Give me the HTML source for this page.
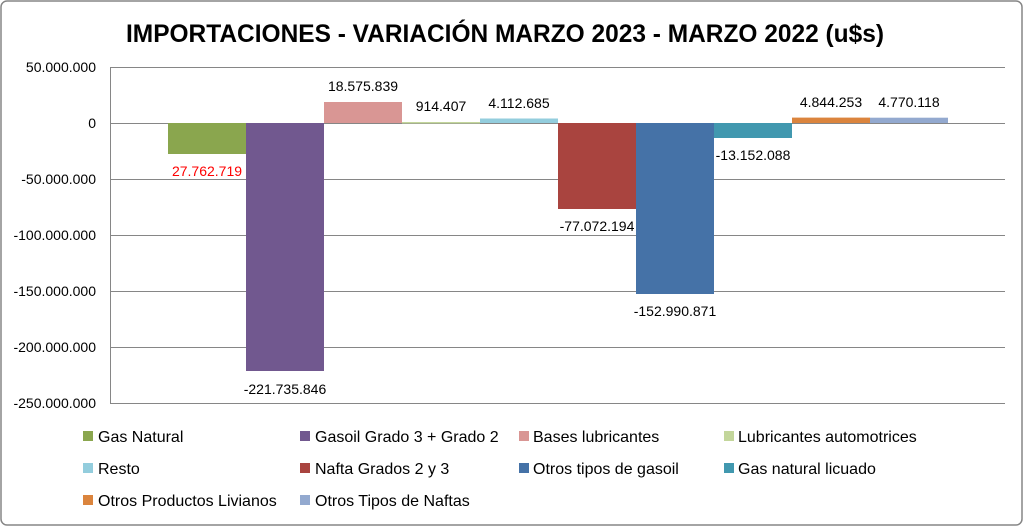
<!DOCTYPE html>
<html><head><meta charset="utf-8"><style>
html,body{margin:0;padding:0;background:#fff}
svg{display:block;font-family:"Liberation Sans",sans-serif}
</style></head><body>
<svg width="1023" height="526" viewBox="0 0 1023 526" xmlns="http://www.w3.org/2000/svg">
<rect x="1" y="1" width="1021" height="524" rx="6" fill="#fff" stroke="#868686" stroke-width="1.5"/>
<text x="505" y="42" text-anchor="middle" font-size="25" font-weight="bold" textLength="758" lengthAdjust="spacingAndGlyphs">IMPORTACIONES - VARIACIÓN MARZO 2023 - MARZO 2022 (u$s)</text>
<g stroke="#868686" stroke-width="1">
<line x1="110" y1="67.5" x2="1005" y2="67.5"/>
<line x1="110" y1="123.5" x2="1005" y2="123.5"/>
<line x1="110" y1="179.5" x2="1005" y2="179.5"/>
<line x1="110" y1="235.5" x2="1005" y2="235.5"/>
<line x1="110" y1="291.5" x2="1005" y2="291.5"/>
<line x1="110" y1="347.5" x2="1005" y2="347.5"/>
<line x1="110" y1="403.5" x2="1005" y2="403.5"/>
<line x1="110.5" y1="67" x2="110.5" y2="404"/>
</g>
<g font-size="14" text-anchor="end" fill="#000">
<text x="96" y="72">50.000.000</text>
<text x="96" y="128">0</text>
<text x="96" y="184">-50.000.000</text>
<text x="96" y="240">-100.000.000</text>
<text x="96" y="296">-150.000.000</text>
<text x="96" y="352">-200.000.000</text>
<text x="96" y="408">-250.000.000</text>
</g>
<rect x="168" y="123" width="78" height="31" fill="#8AA64E"/>
<rect x="246" y="123" width="78" height="248" fill="#71588F"/>
<rect x="324" y="102" width="78" height="21" fill="#D99694"/>
<rect x="402" y="122" width="78" height="1.5" fill="#C3D69B"/>
<rect x="480" y="118.5" width="78" height="4.5" fill="#93CDDD"/>
<rect x="558" y="123" width="78" height="86" fill="#A9443F"/>
<rect x="636" y="123" width="78" height="171" fill="#4572A7"/>
<rect x="714" y="123" width="78" height="15" fill="#4198AF"/>
<rect x="792" y="117.6" width="78" height="5.4" fill="#DB843D"/>
<rect x="870" y="117.7" width="78" height="5.3" fill="#93A9CF"/>
<g font-size="14" text-anchor="middle" fill="#000">
<text x="207" y="176" fill="#FF0000">27.762.719</text>
<text x="285" y="394">-221.735.846</text>
<text x="363" y="91">18.575.839</text>
<text x="441" y="111">914.407</text>
<text x="519" y="108">4.112.685</text>
<text x="597" y="231">-77.072.194</text>
<text x="675" y="316">-152.990.871</text>
<text x="753" y="160">-13.152.088</text>
<text x="831" y="107">4.844.253</text>
<text x="909" y="107">4.770.118</text>
</g>
<g font-size="16" fill="#000">
<rect x="83" y="431" width="10" height="10" fill="#8AA64E"/><text x="98" y="442">Gas Natural</text>
<rect x="300" y="431" width="10" height="10" fill="#71588F"/><text x="315" y="442">Gasoil Grado 3 + Grado 2</text>
<rect x="519" y="431" width="10" height="10" fill="#D99694"/><text x="533" y="442">Bases lubricantes</text>
<rect x="724" y="431" width="10" height="10" fill="#C3D69B"/><text x="738" y="442">Lubricantes automotrices</text>
<rect x="83" y="463" width="10" height="10" fill="#93CDDD"/><text x="98" y="474">Resto</text>
<rect x="300" y="463" width="10" height="10" fill="#A9443F"/><text x="315" y="474">Nafta Grados 2 y 3</text>
<rect x="519" y="463" width="10" height="10" fill="#4572A7"/><text x="533" y="474">Otros tipos de gasoil</text>
<rect x="724" y="463" width="10" height="10" fill="#4198AF"/><text x="738" y="474">Gas natural licuado</text>
<rect x="83" y="495" width="10" height="10" fill="#DB843D"/><text x="98" y="506">Otros Productos Livianos</text>
<rect x="300" y="495" width="10" height="10" fill="#93A9CF"/><text x="315" y="506">Otros Tipos de Naftas</text>
</g>
</svg>
</body></html>
